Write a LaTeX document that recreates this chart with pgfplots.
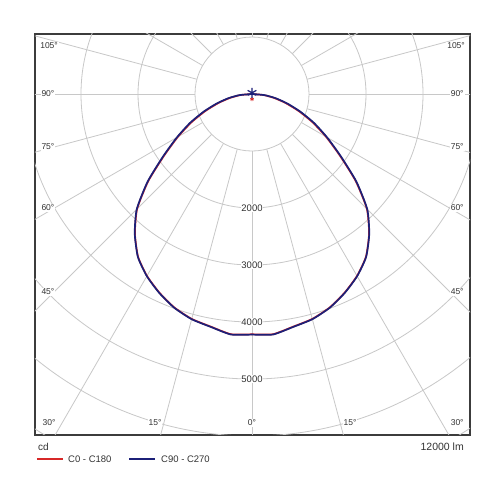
\documentclass[border=0pt]{standalone}
\usepackage{fontspec}
\setmainfont{Liberation Sans}
\usepackage{pgfplots}
\pgfplotsset{compat=1.18}
\usepackage{pgfplotstable}

\definecolor{gridc}{RGB}{200,200,200}
\definecolor{boxc}{RGB}{60,60,60}
\definecolor{curveblue}{RGB}{28,32,120}
\definecolor{curvered}{RGB}{215,40,40}
\definecolor{txt}{RGB}{50,50,50}

% gamma (deg from nadir), intensity (cd)
\pgfplotstableread{
g I
0 4215
5 4230
10 4145
15 4085
20 3985
25 3845
30 3685
35 3485
40 3195
45 2850
50 2375
55 1880
60 1500
65 1170
70 870
75 610
80 390
85 200
90 0
}\redC

\pgfplotstableread{
g I
0 4220
5 4235
10 4150
15 4090
20 3990
25 3850
30 3690
35 3490
40 3200
45 2860
50 2390
55 1900
60 1520
65 1200
70 900
75 640
80 420
85 220
90 0
}\blueC

\begin{document}
\begin{tikzpicture}
\begin{axis}[
  x=0.057pt, y=0.057pt,
  xmin=-3807, xmax=3825, ymin=-5982, ymax=1053,
  xtick=\empty, ytick=\empty,
  axis line style={draw=boxc, line width=1.1pt},
  clip=true,
  axis background/.style={fill=white},
]
% grid rings
\pgfplotsinvokeforeach{1000,2000,3000,4000,5000,6000,7000,8000}{
  \draw[gridc, line width=0.8pt] (axis cs:0,0) circle[radius=#1];
}
% radial lines every 15 deg
\pgfplotsinvokeforeach{0,15,30,45,60,75,90,105,120,135,150,165,180,195,210,225,240,255,270,285,300,315,330,345}{
  \draw[gridc, line width=0.8pt] (axis cs:{1000*sin(#1)},{-1000*cos(#1)}) -- (axis cs:{9000*sin(#1)},{-9000*cos(#1)});
}
% ring labels
\pgfplotsinvokeforeach{2000,3000,4000,5000}{
  \node[fill=white, inner sep=0.8pt, font=\fontsize{9.5}{10}\selectfont, text=txt] at (axis cs:0,-#1) {#1};
}
% angle labels
\tikzset{al/.style={fill=white, inner sep=1pt, font=\fontsize{8.5}{9}\selectfont, text=txt}}
\node[al] at (axis cs:-3560,842) {105°};
\node[al] at (axis cs:-3580,0) {90°};
\node[al] at (axis cs:-3580,-930) {75°};
\node[al] at (axis cs:-3580,-2000) {60°};
\node[al] at (axis cs:-3580,-3474) {45°};
\node[al] at (axis cs:-3560,-5772) {30°};
\node[al] at (axis cs:-1702,-5772) {15°};
\node[al] at (axis cs:0,-5772) {0°};
\node[al] at (axis cs:1719,-5772) {15°};
\node[al] at (axis cs:3600,-5772) {30°};
\node[al] at (axis cs:3580,842) {105°};
\node[al] at (axis cs:3600,0) {90°};
\node[al] at (axis cs:3600,-930) {75°};
\node[al] at (axis cs:3600,-2000) {60°};
\node[al] at (axis cs:3600,-3474) {45°};

% C0 - C180
\addplot[curvered, line width=1.7pt, smooth, tension=0.35, line join=round] table[x expr={\thisrow{I}*sin(\thisrow{g})}, y expr={-\thisrow{I}*cos(\thisrow{g})}] {\redC};
\addplot[curvered, line width=1.7pt, smooth, tension=0.35, line join=round] table[x expr={-\thisrow{I}*sin(\thisrow{g})}, y expr={-\thisrow{I}*cos(\thisrow{g})}] {\redC};
\addplot[only marks, mark=asterisk, mark size=2pt, curvered, line width=0.7pt] coordinates {(0,-90)};
% C90 - C270
\addplot[curveblue, line width=1.7pt, smooth, tension=0.35, line join=round] table[x expr={\thisrow{I}*sin(\thisrow{g})}, y expr={-\thisrow{I}*cos(\thisrow{g})}] {\blueC};
\addplot[curveblue, line width=1.7pt, smooth, tension=0.35, line join=round] table[x expr={-\thisrow{I}*sin(\thisrow{g})}, y expr={-\thisrow{I}*cos(\thisrow{g})}] {\blueC};
\addplot[only marks, mark=asterisk, mark size=5pt, curveblue, line width=1.2pt] coordinates {(0,20)};
\end{axis}
\begin{scope}[shift={(current axis.south west)}, x=1pt, y=1pt]
  \path (-35,-65) rectangle (465,435);
  \node[anchor=west, text=txt, font=\fontsize{10}{11}\selectfont, inner sep=0pt] at (3,-12) {cd};
  \node[anchor=east, text=txt, font=\fontsize{10.5}{11}\selectfont, inner sep=0pt] at (429,-12) {12000 lm};
  \draw[curvered, line width=1.1pt] (2,-24) -- (28,-24);
  \node[anchor=west, text=txt, font=\fontsize{9.5}{10}\selectfont, inner sep=0pt] at (33,-24) {C0 - C180};
  \draw[curveblue, line width=1.1pt] (94,-24) -- (120,-24);
  \node[anchor=west, text=txt, font=\fontsize{9.5}{10}\selectfont, inner sep=0pt] at (126,-24) {C90 - C270};
\end{scope}
\end{tikzpicture}
\end{document}
